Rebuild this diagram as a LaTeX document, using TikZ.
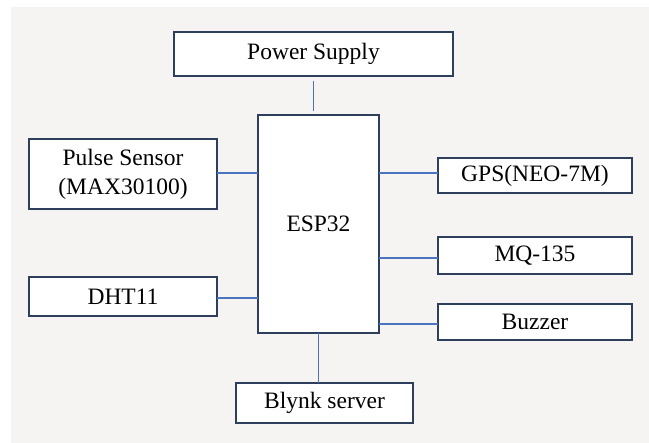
\documentclass[tikz,border=0pt]{standalone}
\usepackage{fontspec}
\setmainfont{Liberation Serif}
\definecolor{bgc}{HTML}{F5F4F2}
\definecolor{boxc}{HTML}{2E3F5E}
\definecolor{linec}{HTML}{4A74C0}
\begin{document}
\begin{tikzpicture}[x=1pt,y=-1pt,
  blk/.style={draw=boxc,fill=white,line width=1.4pt,inner sep=0pt,outer sep=0pt,
    font=\fontsize{23.5}{29}\selectfont,align=center},
  conn/.style={draw=linec,line width=1.2pt}]
\useasboundingbox (0,0) rectangle (649,443);
\fill[white] (0,0) rectangle (649,443);
\fill[bgc] (11,7) rectangle (649,443);
\node[blk,minimum width=279pt,minimum height=44pt] (power) at (313.5,54) {Power Supply};
\node[blk,minimum width=121pt,minimum height=218pt] (esp) at (318.5,224) {ESP32};
\node[blk,minimum width=188pt,minimum height=70pt] (pulse) at (123,174) {Pulse Sensor\\(MAX30100)};
\node[blk,minimum width=188pt,minimum height=39pt] (dht) at (123,296.5) {DHT11};
\node[blk,minimum width=194pt,minimum height=35pt] (gps) at (535,175.5) {GPS(NEO-7M)};
\node[blk,minimum width=194pt,minimum height=37pt] (mq) at (535,255.5) {MQ-135};
\node[blk,minimum width=194pt,minimum height=36pt] (buz) at (535,322) {Buzzer};
\node[blk,minimum width=177pt,minimum height=40pt] (blynk) at (324.5,403) {Blynk server};
\draw[conn] ([yshift=-5pt]power.south) -- ([yshift=4pt]power.south |- esp.north);
\draw[conn] ([yshift=1pt]pulse.east) -- ([yshift=1pt]pulse.east -| esp.west);
\draw[conn] ([yshift=-1.5pt]dht.east) -- ([yshift=-1.5pt]dht.east -| esp.west);
\draw[conn] ([yshift=2.5pt]gps.west) -- ([yshift=2.5pt]gps.west -| esp.east);
\draw[conn] ([yshift=-2.5pt]mq.west) -- ([yshift=-2.5pt]mq.west -| esp.east);
\draw[conn] ([yshift=-2pt]buz.west) -- ([yshift=-2pt]buz.west -| esp.east);
\draw[conn] (esp.south) -- (esp.south |- blynk.north);
\end{tikzpicture}
\end{document}
